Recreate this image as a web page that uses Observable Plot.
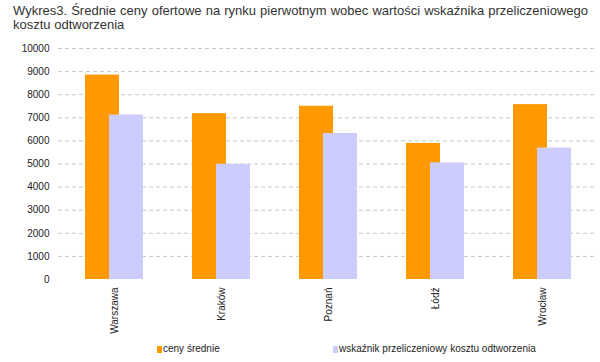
<!DOCTYPE html>
<html>
<head>
<meta charset="utf-8">
<script src="https://cdn.jsdelivr.net/npm/d3@7"></script>
<script src="https://cdn.jsdelivr.net/npm/@observablehq/plot@0.6"></script>
<style>
  html, body { margin: 0; padding: 0; background: #fff; }
  body { width: 600px; height: 362px; position: relative; overflow: hidden; font-family: "Liberation Sans", Arial, sans-serif; color: #222; }
  #title { position: absolute; left: 13px; top: 4px; width: 575px; font-size: 13px; line-height: 14px; color: #333; }
  #title .l1 { white-space: nowrap; text-align: justify; text-align-last: justify; }
  #chart { position: absolute; left: 0; top: 38px; }
  .leg { position: absolute; top: 343px; font-size: 10px; line-height: 12px; color: #222; white-space: nowrap; }
  .sw { display: inline-block; width: 5px; height: 7px; margin-right: 1px; vertical-align: -1px; }
</style>
</head>
<body>
<div id="title"><div class="l1">Wykres3. Średnie ceny ofertowe na rynku pierwotnym wobec wartości wskaźnika przeliczeniowego</div><div>kosztu odtworzenia</div></div>
<div id="chart"></div>
<div class="leg" style="left:157px"><span class="sw" style="background:#FF9900"></span>ceny średnie</div>
<div class="leg" style="left:333px"><span class="sw" style="background:#CCCCFF"></span>wskaźnik przeliczeniowy kosztu odtworzenia</div>
<script>
const cities = ["Warszawa", "Kraków", "Poznań", "Łódź", "Wrocław"];
const cenySrednie = [8850, 7180, 7500, 5890, 7570];
const wskaznik = [7120, 4990, 6320, 5050, 5690];
const yTicks = [0, 1000, 2000, 3000, 4000, 5000, 6000, 7000, 8000, 9000, 10000];
const gridTicks = yTicks.filter(d => d > 0);
const seriesNames = ["ceny średnie", "wskaźnik przeliczeniowy kosztu odtworzenia"];
const seriesColors = ["#FF9900", "#CCCCFF"];

const dataA = cities.map((c, i) => ({city: c, value: cenySrednie[i]}));
const dataB = cities.map((c, i) => ({city: c, value: wskaznik[i]}));

const chart = Plot.plot({
  width: 600,
  height: 300,
  marginTop: 10,
  marginBottom: 59,
  marginLeft: 58,
  marginRight: 3,
  style: {fontFamily: "Liberation Sans, Arial, sans-serif", fontSize: "10px", color: "#222", background: "transparent"},
  x: {domain: cities, paddingInner: 0.6846, paddingOuter: 0.3423, label: null},
  y: {domain: [0, 10000], label: null},
  marks: [
    Plot.gridY(gridTicks, {stroke: "#c8c8c8", strokeOpacity: 1, strokeDasharray: "4,3"}),
    Plot.barY(dataA, {x: "city", y: "value", fill: seriesColors[0], dx: -12}),
    Plot.barY(dataB, {x: "city", y: "value", fill: seriesColors[1], dx: 12}),
    Plot.axisY(yTicks, {tickSize: 0, tickPadding: 9, label: null, fontSize: 10, tickFormat: d => String(d)}),
    Plot.axisX({tickSize: 0, tickPadding: 8, tickRotate: -90, label: null, fontSize: 10})
  ]
});
document.getElementById("chart").appendChild(chart);
</script>
</body>
</html>
